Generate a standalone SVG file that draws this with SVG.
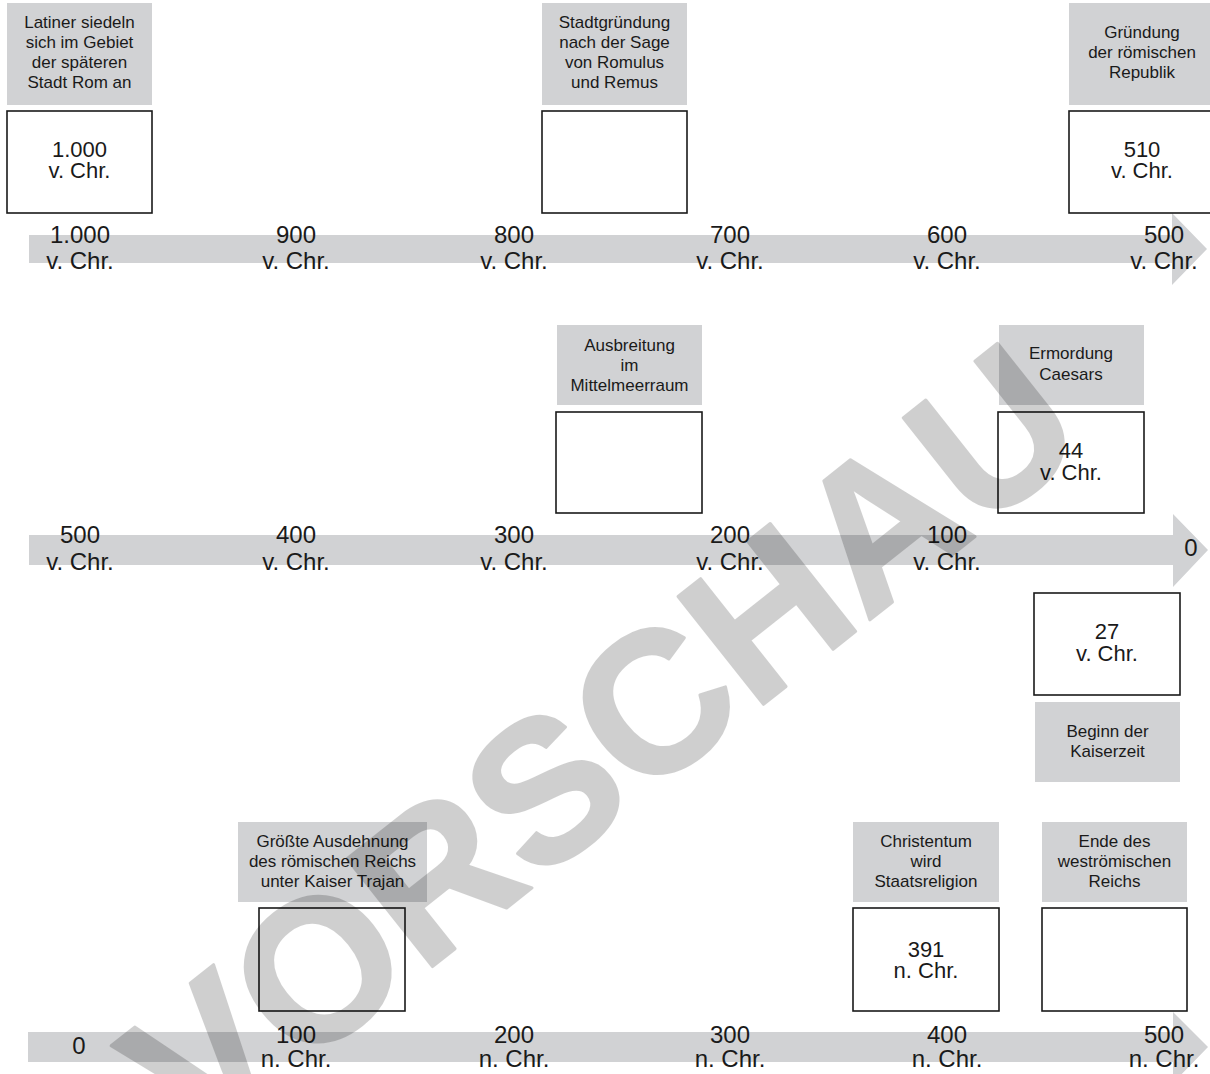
<svg xmlns="http://www.w3.org/2000/svg" width="1210" height="1074" viewBox="0 0 1210 1074">
<style>
.bg{fill:#ffffff}
.bar{fill:#d1d2d4}
.lab{fill:#d1d2d4}
.box{fill:#ffffff;stroke:#1a1a1a;stroke-width:1.6}
text{font-family:"Liberation Sans",Arial,sans-serif;fill:#1a1a1a;text-anchor:middle}
.t{font-size:17px}
.b{font-size:22px}
.k{font-size:24px}
.wm{font-family:"Liberation Sans",Arial,sans-serif;font-weight:bold;font-size:200px;fill:#000000;stroke:#000000;stroke-width:3;stroke-linejoin:round;text-anchor:middle}
</style>
<rect class="bg" x="0" y="0" width="1210" height="1074"/>
<g id="connectors">
<path class="bar" d="M29,235 H1172 V213 L1207,249 L1172,285 V263 H29 Z"/>
<path class="bar" d="M29,535 H1173 V514 L1208,550 L1173,587 V565 H29 Z"/>
<path class="bar" d="M28,1032 H1173 V1012 L1208,1047 L1173,1083 V1062 H28 Z"/>
</g>
<g id="ticks">
<g class="k">
<text x="80" y="243">1.000</text><text x="80" y="269">v. Chr.</text>
<text x="296" y="243">900</text><text x="296" y="269">v. Chr.</text>
<text x="514" y="243">800</text><text x="514" y="269">v. Chr.</text>
<text x="730" y="243">700</text><text x="730" y="269">v. Chr.</text>
<text x="947" y="243">600</text><text x="947" y="269">v. Chr.</text>
<text x="1164" y="243">500</text><text x="1164" y="269">v. Chr.</text>
<text x="80" y="543">500</text><text x="80" y="570">v. Chr.</text>
<text x="296" y="543">400</text><text x="296" y="570">v. Chr.</text>
<text x="514" y="543">300</text><text x="514" y="570">v. Chr.</text>
<text x="730" y="543">200</text><text x="730" y="570">v. Chr.</text>
<text x="947" y="543">100</text><text x="947" y="570">v. Chr.</text>
<text x="1191" y="556">0</text>
<text x="79" y="1054">0</text>
<text x="296" y="1043">100</text><text x="296" y="1067">n. Chr.</text>
<text x="514" y="1043">200</text><text x="514" y="1067">n. Chr.</text>
<text x="730" y="1043">300</text><text x="730" y="1067">n. Chr.</text>
<text x="947" y="1043">400</text><text x="947" y="1067">n. Chr.</text>
<text x="1164" y="1043">500</text><text x="1164" y="1067">n. Chr.</text>
</g>
</g>
<g id="ev-latiner">
<rect class="lab" x="7" y="3" width="145" height="102"/>
<text class="t" x="79.5" y="28">Latiner siedeln</text>
<text class="t" x="79.5" y="48">sich im Gebiet</text>
<text class="t" x="79.5" y="68">der späteren</text>
<text class="t" x="79.5" y="88">Stadt Rom an</text>
<rect class="box" x="7" y="111" width="145" height="102"/>
<text class="b" x="79.5" y="157">1.000</text>
<text class="b" x="79.5" y="178">v. Chr.</text>
</g>
<g id="ev-stadtgruendung">
<rect class="lab" x="542" y="3" width="145" height="102"/>
<text class="t" x="614.5" y="28">Stadtgründung</text>
<text class="t" x="614.5" y="48">nach der Sage</text>
<text class="t" x="614.5" y="68">von Romulus</text>
<text class="t" x="614.5" y="88">und Remus</text>
<rect class="box" x="542" y="111" width="145" height="102"/>
</g>
<g id="ev-republik">
<rect class="lab" x="1069" y="3" width="146" height="102"/>
<text class="t" x="1142" y="38">Gründung</text>
<text class="t" x="1142" y="58">der römischen</text>
<text class="t" x="1142" y="78">Republik</text>
<rect class="box" x="1069" y="111" width="146" height="102"/>
<text class="b" x="1142" y="157">510</text>
<text class="b" x="1142" y="178">v. Chr.</text>
</g>
<g id="ev-ausbreitung">
<rect class="lab" x="557" y="325" width="145" height="80"/>
<text class="t" x="629.5" y="351">Ausbreitung</text>
<text class="t" x="629.5" y="371">im</text>
<text class="t" x="629.5" y="391">Mittelmeerraum</text>
<rect class="box" x="556" y="412" width="146" height="101"/>
</g>
<g id="ev-caesar">
<rect class="lab" x="999" y="325" width="145" height="80"/>
<text class="t" x="1071" y="359">Ermordung</text>
<text class="t" x="1071" y="380">Caesars</text>
<rect class="box" x="998" y="412" width="146" height="101"/>
<text class="b" x="1071" y="458">44</text>
<text class="b" x="1071" y="480">v. Chr.</text>
</g>
<g id="ev-kaiserzeit">
<rect class="box" x="1034" y="593" width="146" height="102"/>
<text class="b" x="1107" y="639">27</text>
<text class="b" x="1107" y="661">v. Chr.</text>
<rect class="lab" x="1035" y="702" width="145" height="80"/>
<text class="t" x="1107.5" y="737">Beginn der</text>
<text class="t" x="1107.5" y="757">Kaiserzeit</text>
</g>
<g id="ev-trajan">
<rect class="lab" x="238" y="822" width="189" height="80"/>
<text class="t" x="332.5" y="847">Größte Ausdehnung</text>
<text class="t" x="332.5" y="867">des römischen Reichs</text>
<text class="t" x="332.5" y="887">unter Kaiser Trajan</text>
<rect class="box" x="259" y="908" width="146" height="103"/>
</g>
<g id="ev-christentum">
<rect class="lab" x="853" y="822" width="146" height="80"/>
<text class="t" x="926" y="847">Christentum</text>
<text class="t" x="926" y="867">wird</text>
<text class="t" x="926" y="887">Staatsreligion</text>
<rect class="box" x="853" y="908" width="146" height="103"/>
<text class="b" x="926" y="957">391</text>
<text class="b" x="926" y="978">n. Chr.</text>
</g>
<g id="ev-westrom">
<rect class="lab" x="1042" y="822" width="145" height="80"/>
<text class="t" x="1114.5" y="847">Ende des</text>
<text class="t" x="1114.5" y="867">weströmischen</text>
<text class="t" x="1114.5" y="887">Reichs</text>
<rect class="box" x="1042" y="908" width="145" height="103"/>
</g>
<g id="watermark" opacity="0.185">
<text class="wm" transform="translate(644,799) rotate(-38.4)" x="0" y="0">VORSCHAU</text>
</g>
</svg>
